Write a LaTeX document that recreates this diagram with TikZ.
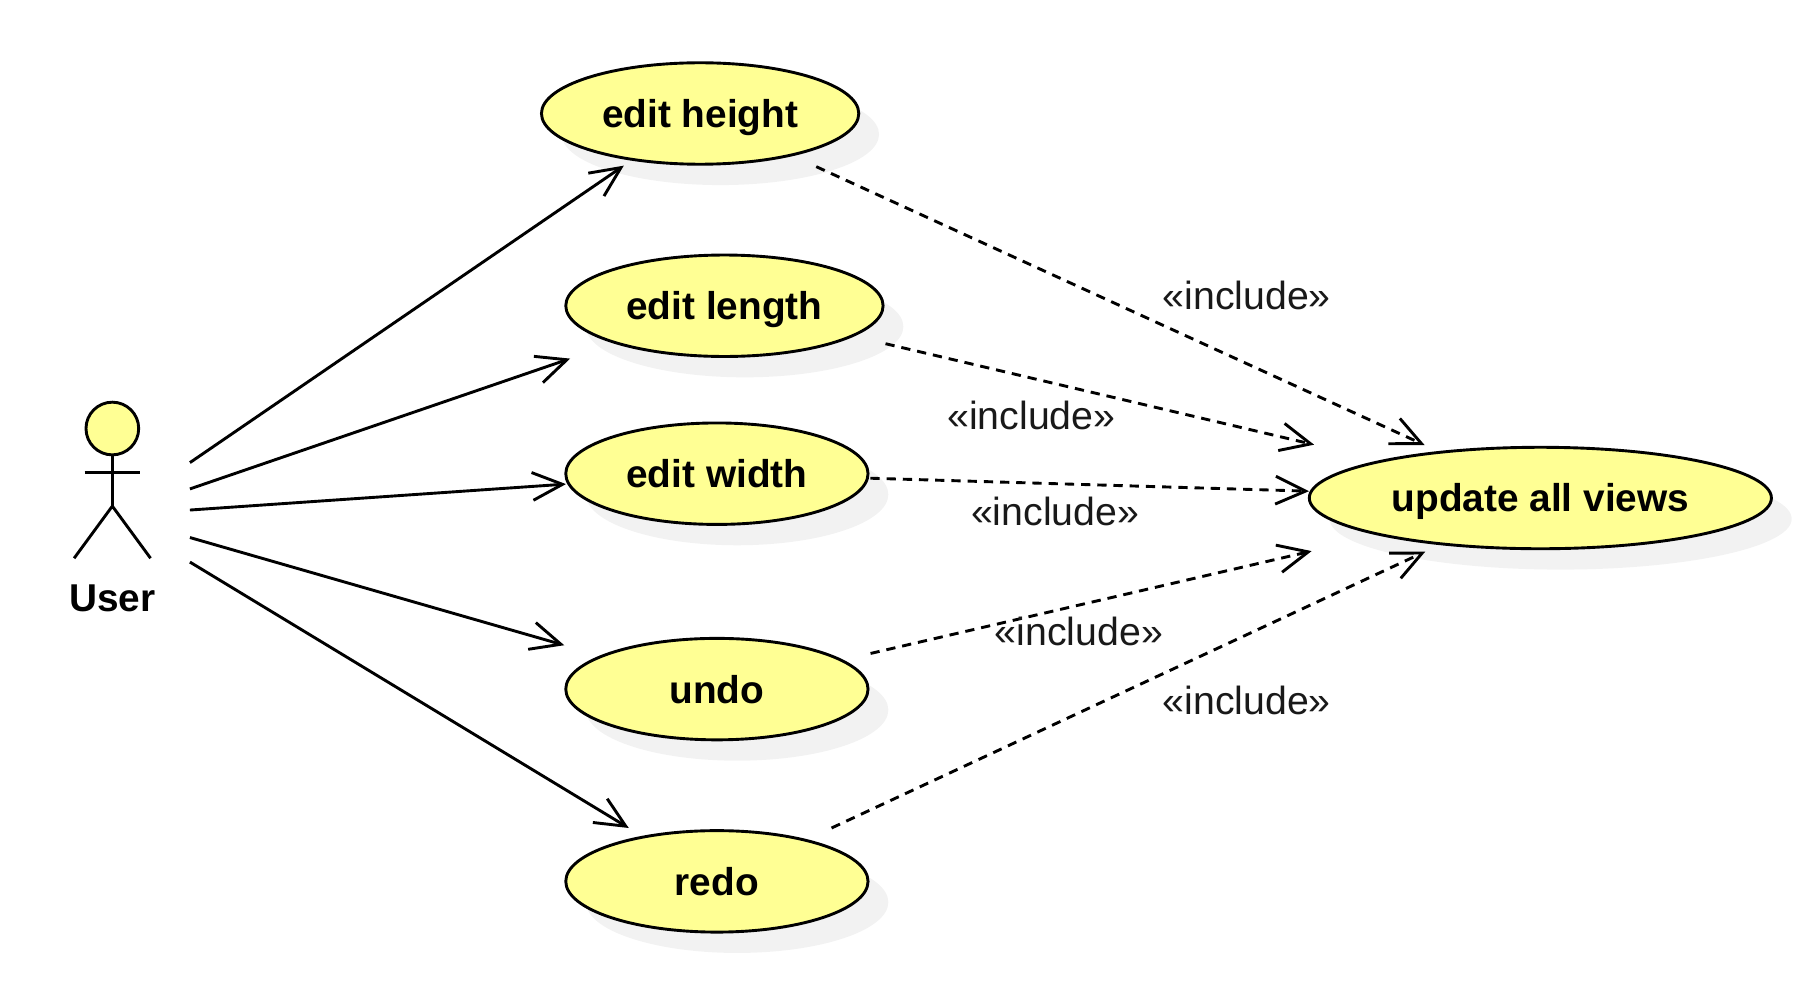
\documentclass[tikz,border=0pt]{standalone}
\usepackage{fontspec}
\setmainfont{Liberation Sans}
\usetikzlibrary{arrows.meta,shapes.geometric,shadows}
\definecolor{caseYellow}{HTML}{FFFF94}
\definecolor{caseShadow}{HTML}{F2F2F2}
\newcommand{\umlFont}[0]{\fontsize{33.5}{40}\selectfont}
\newcommand{\inclFont}[0]{\fontsize{33.9}{40}\selectfont}

\begin{document}
\begin{tikzpicture}[x=1pt, y=-1pt, line width=2.5pt]
  \tikzset{
    usecase/.style={ellipse, draw, fill=caseYellow, inner sep=0pt, outer sep=0pt,
      minimum height=87.6pt, text height=31pt, text depth=7pt, font=\umlFont\bfseries,
      drop shadow={shadow xshift=17.5pt, shadow yshift=-18pt, fill=caseShadow, opacity=1}},
    actorBox/.style={inner sep=0pt, outer sep=0pt, minimum width=134pt, minimum height=196pt},
    assoc/.style={-{Straight Barb[length=26pt,width=24pt]}},
    incl/.style={assoc, dash pattern=on 8pt off 6pt},
    inclLabel/.style={inner sep=0pt, text=black!90, font=\inclFont}
  }
  \useasboundingbox (0,0) rectangle (1568,850);

  % use cases
  \node[usecase, minimum width=274pt] (editHeight) at (604.5,98) {edit height};
  \node[usecase, minimum width=274pt] (editLength) at (625.5,264) {edit length};
  \node[usecase, minimum width=261pt] (editWidth) at (619,409) {edit width};
  \node[usecase, minimum width=261pt] (undoCase) at (619,595) {undo};
  \node[usecase, minimum width=261pt] (redoCase) at (619,761) {redo};
  \node[usecase, minimum width=399pt] (updateViews) at (1330,430) {update all views};

  % stick figure
  \node[actorBox] (user) at (97,445) {};
  \node[circle, draw, fill=caseYellow, inner sep=0pt, outer sep=0pt, minimum size=45.5pt] (userHead) at (97,370) {};
  \coordinate (userHip) at (97,437);
  \coordinate (userArmL) at (73,408);
  \coordinate (userArmR) at (121,408);
  \coordinate (userFootL) at (64,482);
  \coordinate (userFootR) at (130,482);
  \draw (userHead) -- (userHip);
  \draw (userArmL) -- (userArmR);
  \draw (userFootL) -- (userHip) -- (userFootR);
  \node[font=\umlFont\bfseries, inner sep=0pt] (userLabel) at (97,516.5) {User};

  \draw[assoc, shorten >=9.5pt] (user) -- (editHeight);
  \draw[assoc, shorten >=42pt] (user) -- (editLength);
  \draw[assoc, shorten >=2.5pt] (user) -- (editWidth);
  \draw[assoc, shorten >=34pt] (user) -- (undoCase);
  \draw[assoc, shorten >=15pt] (user) -- (redoCase);

  \draw[incl, shorten <=24pt, shorten >=15pt] (editHeight) -- (updateViews);
  \draw[incl, shorten <=29.6pt, shorten >=61pt] (editLength) -- (updateViews);
  \draw[incl, shorten <=2.5pt, shorten >=2pt] (editWidth) -- (updateViews);
  \draw[incl, shorten <=26pt, shorten >=62pt] (undoCase) -- (updateViews);
  \draw[incl, shorten <=25pt, shorten >=15.7pt] (redoCase) -- (updateViews);

  \node[inclLabel] (lblHeight) at (1076.5,255) {«include»};
  \node[inclLabel] (lblLength) at (890.5,359) {«include»};
  \node[inclLabel] (lblWidth) at (911,442) {«include»};
  \node[inclLabel] (lblUndo) at (931.5,545) {«include»};
  \node[inclLabel] (lblRedo) at (1076.5,605) {«include»};
\end{tikzpicture}
\end{document}
